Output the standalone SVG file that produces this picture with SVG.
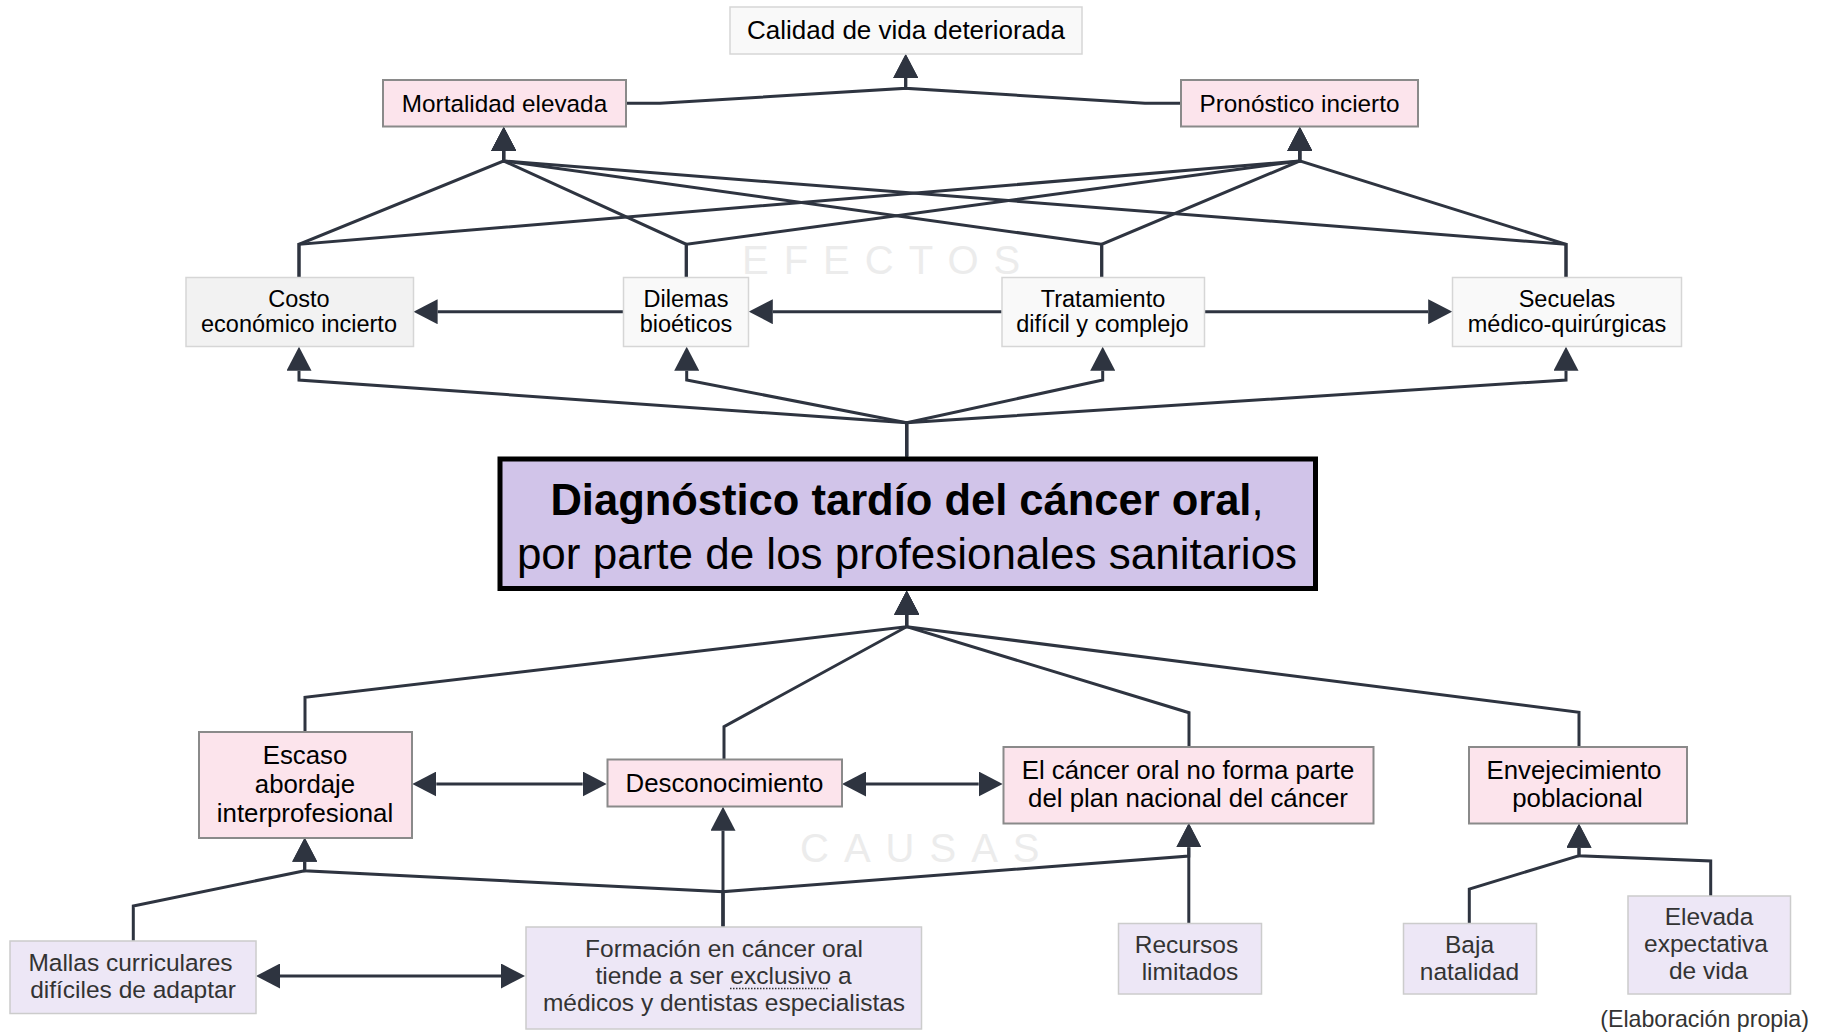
<svg xmlns="http://www.w3.org/2000/svg" width="1832" height="1035" viewBox="0 0 1832 1035">
<style>
text{font-family:"Liberation Sans",Arial,Helvetica,sans-serif;text-anchor:middle}
.eff rect{fill:#f9f9f9;stroke:#d6d6d6;stroke-width:1.5}
.eff text{font-size:23.5px;fill:#000}
.pink rect{fill:#fce4ec;stroke:#8a8a8a;stroke-width:2}
.pink text{font-size:25.8px;fill:#000}
.lav rect{fill:#ede7f6;stroke:#cccccc;stroke-width:1.5}
.lav text{font-size:24.5px;fill:#333}
.wm{font-size:40px;fill:#ececec;text-anchor:start;letter-spacing:15px}
#connectors path{fill:none;stroke:#2e3440;stroke-width:3;stroke-linejoin:miter}
.a{marker-end:url(#ah)}
.aa{marker-start:url(#ah);marker-end:url(#ah)}
</style>
<defs>
<marker id="ah" viewBox="0 0 24 25" refX="0" refY="12.5" markerWidth="24" markerHeight="25" markerUnits="userSpaceOnUse" orient="auto-start-reverse">
<path d="M0,0 L24,12.5 L0,25 Z" fill="#2e3440"/>
</marker>
</defs>
<rect x="0" y="0" width="1832" height="1035" fill="#ffffff"/>
<text class="wm" x="742" y="274">EFECTOS</text>
<text class="wm" x="800" y="862">CAUSAS</text>

<g id="connectors">
<path class="a" d="M626.2,103.3 L660,103.3 L905.7,88.3 L905.7,78"/>
<path class="a" d="M1180.6,103.3 L1145,103.3 L905.7,88.3 L905.7,78"/>
<path class="a" d="M299,277.5 L299,244.3 L503.7,161 L503.7,151"/>
<path class="a" d="M686.3,277.5 L686.3,244.3 L503.7,161 L503.7,151"/>
<path class="a" d="M1101.7,277.5 L1101.7,244.3 L503.7,161 L503.7,151"/>
<path class="a" d="M1566,277.5 L1566,244.3 L503.7,161 L503.7,151"/>
<path class="a" d="M299,277.5 L299,244.3 L1299.8,161 L1299.8,151"/>
<path class="a" d="M686.3,277.5 L686.3,244.3 L1299.8,161 L1299.8,151"/>
<path class="a" d="M1101.7,277.5 L1101.7,244.3 L1299.8,161 L1299.8,151"/>
<path class="a" d="M1566,277.5 L1566,244.3 L1299.8,161 L1299.8,151"/>
<path class="a" d="M623.2,311.7 L437.6,311.7"/>
<path class="a" d="M1001.9,311.7 L772.8,311.7"/>
<path class="a" d="M1204.5,311.7 L1428.2,311.7"/>
<path class="a" d="M906.7,456.5 L906.7,422.7 L299,380 L299,370.7"/>
<path class="a" d="M906.7,456.5 L906.7,422.7 L686.7,380 L686.7,370.7"/>
<path class="a" d="M906.7,456.5 L906.7,422.7 L1102.7,380 L1102.7,370.7"/>
<path class="a" d="M906.7,456.5 L906.7,422.7 L1566,380 L1566,370.7"/>
<path class="a" d="M305,731.7 L305,697.3 L906.7,626.7 L906.7,614.7"/>
<path class="a" d="M724,759.3 L724,726.7 L906.7,626.7 L906.7,614.7"/>
<path class="a" d="M1189,746.7 L1189,712.7 L906.7,626.7 L906.7,614.7"/>
<path class="a" d="M1579,746.7 L1579,712.3 L906.7,626.7 L906.7,614.7"/>
<path class="aa" d="M436.3,784 L582.7,784"/>
<path class="aa" d="M866,784 L978.7,784"/>
<path class="aa" d="M280,976 L501,976"/>
<path class="a" d="M133.3,940.7 L133.3,906 L304.7,870.7 L304.7,861.7"/>
<path class="a" d="M723,926.7 L723,891.7 L304.7,870.7 L304.7,861.7"/>
<path class="a" d="M723,926.7 L723,830.7"/>
<path class="a" d="M723,926.7 L723,891.7 L1188.8,856 L1188.8,847.3"/>
<path class="a" d="M1188.8,923.3 L1188.8,847.3"/>
<path class="a" d="M1469.3,923.3 L1469.3,889 L1579,855.7 L1579,847.7"/>
<path class="a" d="M1710.7,896 L1710.7,861 L1579,855.7 L1579,847.7"/>
</g>

<g id="calidad" class="eff">
<rect x="730" y="7" width="352" height="47"/>
<text x="906" y="39" style="font-size:26px">Calidad de vida deteriorada</text>
</g>
<g id="mortalidad" class="pink">
<rect x="383" y="80" width="243" height="46.5"/>
<text x="504.5" y="111.5" style="font-size:24.3px">Mortalidad elevada</text>
</g>
<g id="pronostico" class="pink">
<rect x="1181" y="80" width="237" height="46.5"/>
<text x="1299.5" y="111.5" style="font-size:24.3px">Pronóstico incierto</text>
</g>

<g id="costo" class="eff">
<rect x="186" y="277.5" width="227.5" height="69" style="fill:#f2f2f2"/>
<text x="299" y="306.5">Costo</text>
<text x="299" y="331.5">económico incierto</text>
</g>
<g id="dilemas" class="eff">
<rect x="623.5" y="277.5" width="125" height="69"/>
<text x="686" y="306.5">Dilemas</text>
<text x="686" y="331.5">bioéticos</text>
</g>
<g id="tratamiento" class="eff">
<rect x="1002" y="277.5" width="202.5" height="69"/>
<text x="1103" y="306.5">Tratamiento</text>
<text x="1102.5" y="331.5">difícil y complejo</text>
</g>
<g id="secuelas" class="eff">
<rect x="1452.5" y="277.5" width="229" height="69"/>
<text x="1567" y="306.5">Secuelas</text>
<text x="1567" y="331.5">médico-quirúrgicas</text>
</g>

<g id="diagnostico">
<rect x="500" y="459" width="815.5" height="129.5" fill="#d1c4e9" stroke="#000" stroke-width="5"/>
<text x="907" y="515" style="font-size:43.5px;fill:#000"><tspan font-weight="bold">Diagnóstico tardío del cáncer oral</tspan>,</text>
<text x="907" y="569" style="font-size:44px;fill:#000">por parte de los profesionales sanitarios</text>
</g>

<g id="escaso" class="pink">
<rect x="199" y="732" width="213" height="106"/>
<text x="305" y="764">Escaso</text>
<text x="305" y="793">abordaje</text>
<text x="305" y="822">interprofesional</text>
</g>
<g id="desconocimiento" class="pink">
<rect x="607.5" y="759.5" width="234.5" height="47"/>
<text x="724.5" y="792">Desconocimiento</text>
</g>
<g id="plan" class="pink">
<rect x="1003.5" y="747" width="370" height="76.5"/>
<text x="1188" y="779">El cáncer oral no forma parte</text>
<text x="1188" y="807">del plan nacional del cáncer</text>
</g>
<g id="envejecimiento" class="pink">
<rect x="1469" y="747" width="218" height="76.5"/>
<text x="1574" y="779">Envejecimiento</text>
<text x="1577.5" y="807">poblacional</text>
</g>

<g id="mallas" class="lav">
<rect x="10" y="941" width="246" height="72.5"/>
<text x="130.5" y="971">Mallas curriculares</text>
<text x="133" y="997.5">difíciles de adaptar</text>
</g>
<g id="formacion" class="lav">
<rect x="526" y="927" width="395.5" height="102"/>
<text x="724" y="957">Formación en cáncer oral</text>
<text x="723.5" y="984">tiende a ser exclusivo a</text>
<text x="724" y="1010.7">médicos y dentistas especialistas</text>
<line x1="730" y1="988.5" x2="829" y2="988.5" stroke="#333" stroke-width="1.5" stroke-dasharray="1.5,1.5"/>
</g>
<g id="recursos" class="lav">
<rect x="1118.5" y="923.5" width="143" height="70.5"/>
<text x="1186.5" y="953.3">Recursos</text>
<text x="1190" y="980">limitados</text>
</g>
<g id="baja" class="lav">
<rect x="1403.5" y="923.5" width="133" height="70.5"/>
<text x="1469.5" y="953.3">Baja</text>
<text x="1469.5" y="980">natalidad</text>
</g>
<g id="elevada" class="lav">
<rect x="1628" y="896" width="162.5" height="98"/>
<text x="1709" y="925">Elevada</text>
<text x="1706" y="952">expectativa</text>
<text x="1708.5" y="979">de vida</text>
</g>

<text x="1809" y="1027" style="font-size:23.2px;fill:#333;text-anchor:end">(Elaboración propia)</text>
</svg>
